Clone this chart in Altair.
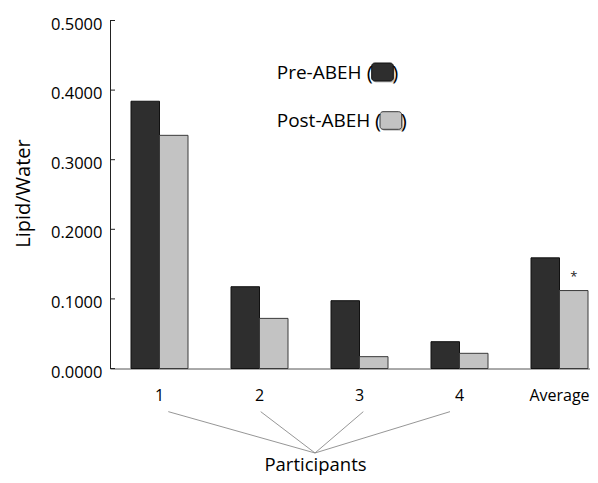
import altair as alt
import pandas as pd

# ---------------- data ----------------
participants = ["1", "2", "3", "4", "Average"]
series = ["Pre-ABEH", "Post-ABEH"]
pre_values = [0.384, 0.1175, 0.0974, 0.0385, 0.159]
post_values = [0.335, 0.072, 0.017, 0.0218, 0.112]
pre_sig = ["", "", "", "", ""]
post_sig = ["", "", "", "", "*"]
y_ticks = [0.0, 0.1, 0.2, 0.3, 0.4, 0.5]
y_title = "Lipid/Water"
x_title = "Participants"

# bracket lines from the first four tick labels to the axis title
bracket_from = ["1", "2", "3", "4"]

# ---------------- style / layout ----------------
FONT = "Open Sans"
fill_colors = ["#2e2e2e", "#c3c3c3"]
stroke_colors = ["#111111", "#3a3a3a"]
PAD_INNER, PAD_OUTER = 0.43, 0.21
BAND_FRAC = 1 - PAD_INNER                       # bandwidth / step
TITLE_X = 205                                   # x-axis title centre (px from plot left)
bracket_start_shift = [0.088, 0.012, 0.038, -0.095]   # in steps, from label centre
bracket_start_y = -0.062
bracket_end_y = -0.1214

rows = []
for i, p in enumerate(participants):
    rows.append({"participant": p, "series": series[0], "value": pre_values[i], "sig": pre_sig[i]})
    rows.append({"participant": p, "series": series[1], "value": post_values[i], "sig": post_sig[i]})
bars_df = pd.DataFrame(rows)
ticks_df = pd.DataFrame({"tick": y_ticks})

RANGE_W = 499
x_scale = alt.Scale(domain=participants, range=[0, RANGE_W], paddingInner=PAD_INNER, paddingOuter=PAD_OUTER)
xoff_scale = alt.Scale(domain=series, paddingInner=0, paddingOuter=0)
y_scale = alt.Scale(domain=[0, 0.5], nice=False, zero=True)
color_scale = alt.Scale(domain=series, range=fill_colors)
stroke_scale = alt.Scale(domain=series, range=stroke_colors)

x_axis = alt.Axis(
    title=x_title, labelAngle=0, labelFontSize=16, labelPadding=18.5, labelColor="#000",
    ticks=False, tickSize=0, domainColor="#555", domainWidth=1, grid=False,
    titleFontSize=18.5, titleFontWeight="normal", titleColor="#000",
    titleX=TITLE_X, titleY=102, titleBaseline="alphabetic", titleAlign="center",
)
y_axis = alt.Axis(
    title=y_title, values=y_ticks, format=".4f", labelFontSize=16.5, labelPadding=8,
    labelOffset=3.5, labelColor="#000", ticks=False, tickSize=0, grid=False,
    domainColor="#222", domainWidth=1,
    titleFontSize=20, titleFontWeight="normal", titleColor="#000", titleAngle=270,
    titleX=-87, titleY=172.5, titleAlign="center", titleBaseline="middle",
)

X = lambda field, **kw: alt.X(field, sort=participants, scale=x_scale, axis=x_axis, **kw)
Y = lambda field: alt.Y(field, scale=y_scale, axis=y_axis)

bars = alt.Chart(bars_df).mark_bar(strokeWidth=1).encode(
    x=X("participant:N"),
    xOffset=alt.XOffset("series:N", sort=series, scale=xoff_scale),
    y=Y("value:Q"),
    color=alt.Color("series:N", scale=color_scale, legend=None),
    stroke=alt.Stroke("series:N", scale=stroke_scale, legend=None),
)

stars = alt.Chart(bars_df).mark_text(fontSize=13, baseline="alphabetic", dy=-10, color="#222").encode(
    x=X("participant:N"),
    xOffset=alt.XOffset("series:N", sort=series, scale=xoff_scale),
    y=Y("value:Q"),
    text="sig:N",
)

tick_marks = alt.Chart(ticks_df).mark_rule(color="#222", strokeWidth=1).encode(
    y=Y("tick:Q"),
    x=alt.value(0),
    x2=alt.value(5),
)

bracket_layers = []
for src, shift in zip(bracket_from, bracket_start_shift):
    d = pd.DataFrame({"src": [src], "y": [bracket_start_y], "y2": [bracket_end_y]})
    bracket_layers.append(
        alt.Chart(d).mark_rule(color="#8a8a8a", strokeWidth=0.9).encode(
            x=X("src:N", bandPosition=0.5 + shift / BAND_FRAC),
            x2=alt.value(TITLE_X),
            y=Y("y:Q"),
            y2="y2:Q",
        )
    )


def legend_row(i, tx, ty, sx0, sx1, sy0, sy1):
    name = series[i]
    d = pd.DataFrame({"series": [name], "label": [name], "open": ["("], "close": [")"]})
    base = alt.Chart(d)
    shadow = base.mark_rect(cornerRadius=3, fill="#9a9a9a", opacity=0.6).encode(
        x=alt.value(sx0 + 1.5), x2=alt.value(sx1 + 1.5), y=alt.value(sy0 + 1.5), y2=alt.value(sy1 + 1.5))
    square = base.mark_rect(cornerRadius=3, strokeWidth=1, stroke=stroke_colors[i]).encode(
        x=alt.value(sx0), x2=alt.value(sx1), y=alt.value(sy0), y2=alt.value(sy1),
        color=alt.Color("series:N", scale=color_scale, legend=None),
    )
    label = base.mark_text(fontSize=19, align="left", baseline="middle", color="#000").encode(
        x=alt.value(tx), y=alt.value(ty), text="label:N")
    popen = base.mark_text(fontSize=20.5, align="right", baseline="middle", color="#000").encode(
        x=alt.value(sx0 + 1), y=alt.value(ty + 0.5), text="open:N")
    pclose = base.mark_text(fontSize=20.5, align="left", baseline="middle", color="#000").encode(
        x=alt.value(sx1 - 1), y=alt.value(ty + 0.5), text="close:N")
    return [shadow, square, label, popen, pclose]


legend_layers = (
    legend_row(0, 166.7, 52.8, 261.7, 283.3, 42.5, 60.5)
    + legend_row(1, 166.7, 100.9, 270.0, 291.7, 91.2, 108.8)
)

chart = alt.layer(bars, stars, tick_marks, *bracket_layers, *legend_layers).properties(
    width=480,
    height=348,
    padding={"left": 102, "top": 12.5, "right": 0, "bottom": 106.5},
    autosize=alt.AutoSizeParams(type="none"),
).configure(font=FONT).configure_view(stroke=None).configure_text(font=FONT)

chart.save("out.html", embed_options={"renderer": "svg", "actions": False})
